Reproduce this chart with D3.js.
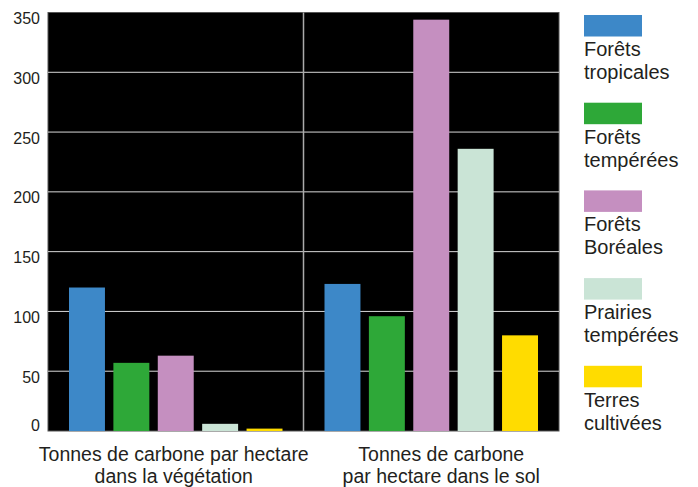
<!DOCTYPE html>
<html>
<head>
<meta charset="utf-8">
<script src="https://cdn.jsdelivr.net/npm/d3@7"></script>
<style>
  body { margin: 0; background: #fff; }
  svg text { font-family: "Liberation Sans", Arial, sans-serif; fill: #231f20; }
</style>
</head>
<body>
<svg id="svg1" width="698" height="487"></svg>
<script>
// groups on the x axis (two lines each)
var groups = ["vegetation", "sol"];
var groupLabels = [
  ["Tonnes de carbone par hectare", "dans la végétation"],
  ["Tonnes de carbone", "par hectare dans le sol"]
];

// biomes
var biomes = ["Forêts tropicales", "Forêts tempérées", "Forêts Boréales", "Prairies tempérées", "Terres cultivées"];
var legendLabels = [["Forêts", "tropicales"], ["Forêts", "tempérées"], ["Forêts", "Boréales"], ["Prairies", "tempérées"], ["Terres", "cultivées"]];
var colors = ["#3d88c8", "#2ea838", "#c58fc0", "#cae4d6", "#ffdc00"];

// tonnes of carbon per hectare
var vegetationValues = [120, 57, 63, 6, 2];
var solValues = [123, 96, 344, 236, 80];

var yTicks = [0, 50, 100, 150, 200, 250, 300, 350];

var svg = d3.select("#svg1");

var plotLeft = 48, plotRight = 559, plotTop = 12.5, plotBottom = 431;

var x0 = d3.scaleBand().domain(groups).range([plotLeft, plotRight]).padding(0);
var x1 = d3.scaleBand().domain(biomes)
            .range([21, x0.bandwidth() - 21])
            .paddingInner(0.19).paddingOuter(0);
var y = d3.scaleLinear().domain([0, 350]).range([plotBottom, plotTop]);

var color = d3.scaleOrdinal().domain(biomes).range(colors);

// black plot background
svg.append("rect")
    .attr("x", plotLeft)
    .attr("y", plotTop)
    .attr("width", plotRight - plotLeft)
    .attr("height", plotBottom - plotTop)
    .attr("fill", "#000")
    .attr("stroke", "#555")
    .attr("stroke-width", 1);

// horizontal grid
svg.append("g")
    .selectAll("line")
    .data(yTicks.filter(function(d) { return d > 0 && d < 350; }))
    .enter()
    .append("line")
      .attr("x1", plotLeft)
      .attr("x2", plotRight)
      .attr("y1", function(d) { return y(d); })
      .attr("y2", function(d) { return y(d); })
      .attr("stroke", "#d8d8d8")
      .attr("stroke-width", 1);

// separator between the two groups
svg.append("line")
    .attr("x1", x0("sol"))
    .attr("x2", x0("sol"))
    .attr("y1", plotTop)
    .attr("y2", plotBottom)
    .attr("stroke", "#aaa")
    .attr("stroke-width", 1.5);

// y tick labels
svg.append("g")
    .selectAll("text")
    .data(yTicks)
    .enter()
    .append("text")
      .attr("x", 40)
      .attr("y", function(d) { return y(d); })
      .attr("dy", function(d) { return d == 0 ? "0" : "0.72em"; })
      .attr("text-anchor", "end")
      .attr("font-size", 16)
      .text(function(d) { return d; });

// bars
var data = [vegetationValues, solValues];

var groupG = svg.selectAll(".group")
    .data(groups)
    .enter()
    .append("g")
      .attr("class", "group")
      .attr("transform", function(d) { return "translate(" + x0(d) + ",0)"; });

groupG.selectAll("rect")
    .data(function(d, i) {
      return biomes.map(function(b, j) { return { biome: b, value: data[i][j] }; });
    })
    .enter()
    .append("rect")
      .attr("x", function(d) { return x1(d.biome); })
      .attr("y", function(d) { return y(d.value); })
      .attr("width", x1.bandwidth())
      .attr("height", function(d) { return y(0) - y(d.value); })
      .attr("fill", function(d) { return color(d.biome); });

// x group labels (slightly off the band centre, as in the original)
var labelShift = [-2, 10];
groupG.each(function(d, i) {
  var t = d3.select(this).append("text")
      .attr("text-anchor", "middle")
      .attr("font-size", 19.5);
  groupLabels[i].forEach(function(line, k) {
    t.append("tspan")
      .attr("x", x0.bandwidth() / 2 + labelShift[i])
      .attr("y", 461 + k * 22)
      .text(line);
  });
});

// legend
var legend = svg.selectAll(".legend")
    .data(biomes)
    .enter()
    .append("g")
      .attr("class", "legend")
      .attr("transform", function(d, i) { return "translate(584," + (15 + i * 87.7) + ")"; });

legend.append("rect")
    .attr("width", 58)
    .attr("height", 21.5)
    .attr("fill", function(d) { return color(d); });

legend.append("text")
    .attr("font-size", 20)
    .each(function(d, i) {
      var t = d3.select(this);
      legendLabels[i].forEach(function(line, k) {
        t.append("tspan").attr("x", 0).attr("y", 41 + k * 23).text(line);
      });
    });
</script>
</body>
</html>
